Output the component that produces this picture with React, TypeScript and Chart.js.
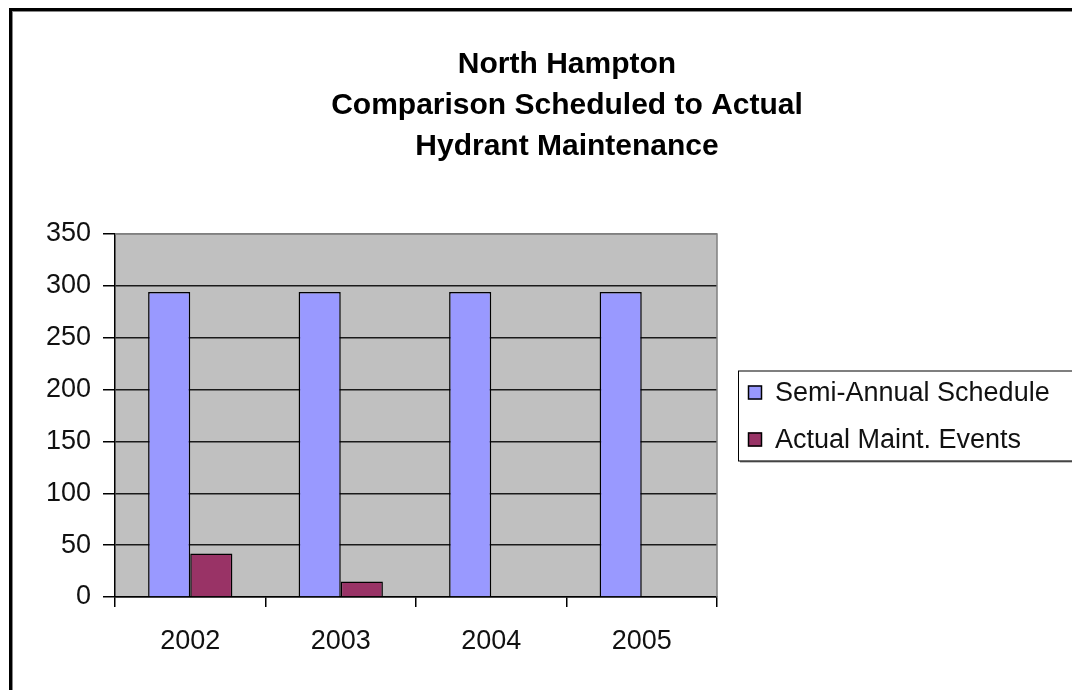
import React, { useEffect, useRef } from "react";
import { Chart, registerables } from "chart.js";

Chart.register(...registerables);

const categories = ["2002", "2003", "2004", "2005"];
const seriesNames = ["Semi-Annual Schedule", "Actual Maint. Events"];
const scheduleValues = [294, 294, 294, 294];
const actualValues = [42, 15, 0, 0];
const titleLines = ["North Hampton", "Comparison Scheduled to Actual", "Hydrant Maintenance"];
const yTicks = [0, 50, 100, 150, 200, 250, 300, 350];

const FONT = "'Liberation Sans', Arial, sans-serif";

const plotBg = {
  id: "plotBg",
  beforeDraw(chart: any) {
    const { ctx, chartArea: a } = chart;
    ctx.save();
    ctx.fillStyle = "#C0C0C0";
    ctx.fillRect(a.left, a.top, a.right - a.left, a.bottom - a.top);
    ctx.restore();
  },
  afterDatasetsDraw(chart: any) {
    const { ctx, chartArea: a } = chart;
    ctx.save();
    ctx.strokeStyle = "#808080";
    ctx.lineWidth = 1.5;
    ctx.beginPath();
    ctx.moveTo(a.left, a.top);
    ctx.lineTo(a.right, a.top);
    ctx.lineTo(a.right, a.bottom);
    ctx.stroke();
    ctx.restore();
  },
};

const boxLegend = {
  id: "boxLegend",
  afterDraw(chart: any) {
    const { ctx, chartArea: a } = chart;
    const left = a.right + 21;
    const cy = (a.top + a.bottom) / 2;
    const h = 90;
    const top = cy - h / 2;
    const right = chart.width - 5;
    ctx.save();
    ctx.fillStyle = "#8a8a8a";
    ctx.fillRect(left + 2, top + h, right - left, 2);
    ctx.fillStyle = "#fff";
    ctx.fillRect(left, top, right - left, h);
    ctx.strokeStyle = "#000";
    ctx.lineWidth = 1;
    ctx.strokeRect(left + 0.5, top + 0.5, right - left, h);
    ctx.font = `27px ${FONT}`;
    ctx.textBaseline = "middle";
    ctx.textAlign = "left";
    chart.data.datasets.forEach((ds: any, i: number) => {
      const y = top + 22 + i * 47;
      ctx.fillStyle = ds.backgroundColor;
      ctx.fillRect(left + 10, y - 7, 14, 14);
      ctx.strokeStyle = "#000";
      ctx.lineWidth = 1.5;
      ctx.strokeRect(left + 10.5, y - 6.5, 13, 13);
      ctx.fillStyle = "#111";
      ctx.fillText(ds.label, left + 37, y + 1);
    });
    ctx.restore();
  },
};

export default function App() {
  const ref = useRef<HTMLCanvasElement>(null);
  useEffect(() => {
    document.body.style.overflow = "hidden";
    const chart = new Chart(ref.current!, {
      type: "bar",
      data: {
        labels: categories,
        datasets: [
          {
            label: seriesNames[0],
            data: scheduleValues,
            backgroundColor: "#9999FF",
            borderColor: "#000",
            borderWidth: 1.5,
          },
          {
            label: seriesNames[1],
            data: actualValues,
            backgroundColor: "#993366",
            borderColor: "#000",
            borderWidth: 1.5,
          },
        ],
      },
      plugins: [plotBg, boxLegend],
      options: {
        responsive: false,
        animation: false,
        devicePixelRatio: 1,
        layout: { padding: 0 },
        datasets: { bar: { barPercentage: 1, categoryPercentage: 0.56 } },
        plugins: {
          legend: { display: false },
          tooltip: { enabled: false },
          title: {
            display: true,
            text: titleLines,
            color: "#000",
            font: { family: FONT, size: 30, weight: "bold", lineHeight: 41 / 30 },
            padding: { top: 33, bottom: 67 },
          },
        },
        scales: {
          x: {
            grid: {
              offset: true,
              drawOnChartArea: false,
              tickLength: 10,
              tickColor: "#000",
              lineWidth: 1.5,
            },
            border: { color: "#000", width: 1.5 },
            ticks: { color: "#111", font: { family: FONT, size: 27 }, padding: 18 },
            afterFit: (s: any) => {
              s.height = 93;
            },
          },
          y: {
            min: 0,
            max: 350,
            afterBuildTicks: (s: any) => {
              s.ticks = yTicks.map((v) => ({ value: v }));
            },
            grid: {
              color: (c: any) => (c.tick && c.tick.value === 350 ? "#808080" : "#1a1a1a"),
              lineWidth: 1.5,
              tickLength: 12,
              tickColor: "#000",
            },
            border: { color: "#000", width: 1.5 },
            ticks: { color: "#111", font: { family: FONT, size: 27 }, padding: 12 },
            afterFit: (s: any) => {
              s.width = 103;
            },
          },
          y2: {
            position: "right",
            display: true,
            grid: { display: false, drawTicks: false },
            border: { display: false },
            ticks: { display: false },
            afterFit: (s: any) => {
              s.width = 405;
            },
          },
        },
      },
    } as any);
    return () => chart.destroy();
  }, []);
  return (
    <div
      style={{
        position: "absolute",
        left: 9,
        top: 8,
        borderTop: "3px solid #000",
        borderLeft: "3px solid #000",
        boxShadow: "inset 1px 1px 0 #888",
        background: "#fff",
      }}
    >
      <canvas ref={ref} width={1110} height={679} style={{ display: "block" }} />
    </div>
  );
}
